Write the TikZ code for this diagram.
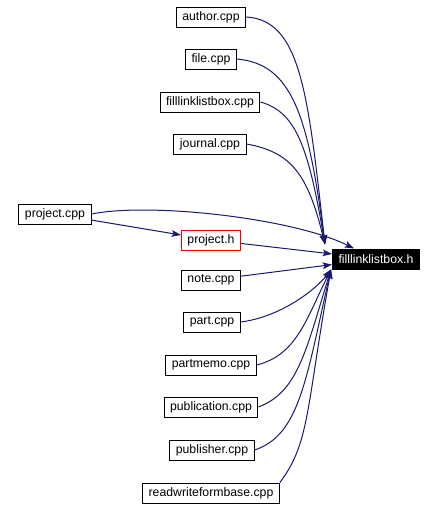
\documentclass[tikz,border=0pt]{standalone}
\usepackage{fontspec}
\setmainfont{Liberation Sans}
\usepackage{tikz}
\usetikzlibrary{positioning,calc,arrows.meta}
\definecolor{ink}   {HTML}{000000}
\definecolor{navy}  {HTML}{191970}
\definecolor{alert} {HTML}{FF0000}
\tikzset{
  % --- nodes
  file/.style  = {draw=ink, fill=white, line width=0.75pt, inner xsep=4.5pt,
                  inner ysep=0pt, minimum height=15pt, font=\fontsize{9.2}{10}\selectfont},
  hit/.style   = {file, draw=alert},
  root/.style  = {file, fill=ink, text=white},
  % --- edges
  e/.style     = {-{Stealth[length=7pt,width=5pt,inset=1.5pt]}, draw=navy,
                  line width=0.75pt},
}
\begin{document}
\begin{tikzpicture}[x=0.75pt,y=-0.75pt]
  \useasboundingbox (0,0) rectangle (438,508);

  % the header everything includes
  \node[root] (hdr) at (376,259) {filllinklistbox.h};
  \coordinate (intop) at ($(hdr.north west)+(-7,-4)$);
  \coordinate (inbot) at ($(hdr.south west)+(-1,0)$);

  % includers above
  \node[file] (author)  at (211,17)  {author.cpp};
  \node[file] (file)    at (211,59)  {file.cpp};
  \node[file] (fllbcpp) at (210,102) {filllinklistbox.cpp};
  \node[file] (journal) at (210,144) {journal.cpp};
  \node[file] (prjcpp)  at (55,214)  {project.cpp};
  \node[hit]  (prjh)    at (211,240) {project.h};

  % includers below
  \node[file] (note)        at (211,280) {note.cpp};
  \node[file] (part)        at (212,322) {part.cpp};
  \node[file] (partmemo)    at (211,365) {partmemo.cpp};
  \node[file] (publication) at (211,407) {publication.cpp};
  \node[file] (publisher)   at (212,450) {publisher.cpp};
  \node[file] (rwfb)        at (211,493) {readwriteformbase.cpp};

  \draw[e] (author.east)  .. controls +(55,3)  and +(-17,-150) .. (intop);
  \draw[e] (file.east)    .. controls +(55,5)  and +(-17,-130) .. (intop);
  \draw[e] (fllbcpp.east) .. controls +(35,10) and +(-17,-100) .. (intop);
  \draw[e] (journal.east) .. controls +(45,8)  and +(-17,-70)  .. (intop);
  \draw[e] (prjcpp.east)  .. controls +(60,-12) and +(-60,-30) .. ($(hdr.north west)!0.25!(hdr.north east)$);
  \draw[e] (prjcpp) -- (prjh);
  \draw[e] (prjh) -- (hdr);
  \draw[e] (note) -- (hdr);

  \draw[e] (part.east)        .. controls +(40,-5)  and +(-15,20)  .. (inbot);
  \draw[e] (partmemo.east)    .. controls +(40,-10) and +(-25,50)  .. (inbot);
  \draw[e] (publication.east) .. controls +(40,-15) and +(-25,80)  .. (inbot);
  \draw[e] (publisher.east)   .. controls +(45,-15) and +(-25,110) .. (inbot);
  \draw[e] (rwfb.north east)  .. controls +(30,-40) and +(-25,140) .. (inbot);
\end{tikzpicture}
\end{document}
